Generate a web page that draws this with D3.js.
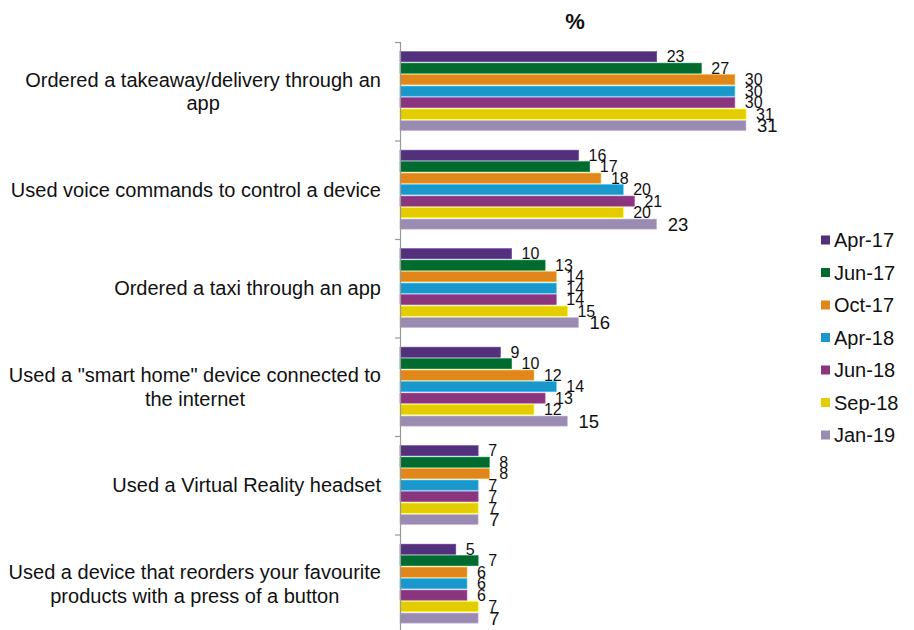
<!DOCTYPE html>
<html>
<head>
<meta charset="utf-8">
<script src="https://cdn.jsdelivr.net/npm/d3@7"></script>
<style>
  body { margin: 0; background: #fff; }
  svg { display: block; font-family: Arial, "Liberation Sans", sans-serif; }
</style>
</head>
<body>
<svg id="chart" width="914" height="630"></svg>
<script>
// Activities surveyed (each label split into display lines)
const categories = [
  ["Ordered a takeaway/delivery through an", "app"],
  ["Used voice commands to control a device"],
  ["Ordered a taxi through an app"],
  ["Used a \"smart home\" device connected to", "the internet"],
  ["Used a Virtual Reality headset"],
  ["Used a device that reorders your favourite", "products with a press of a button"]
];

// Survey waves
const waves = ["Apr-17", "Jun-17", "Oct-17", "Apr-18", "Jun-18", "Sep-18", "Jan-19"];
const waveColors = ["#52307c", "#006a2f", "#e0861a", "#1b98cb", "#89367f", "#e3cc00", "#9a8bb0"];

// Percentage per activity, one array per wave
const apr17 = [23, 16, 10, 9, 7, 5];
const jun17 = [27, 17, 13, 10, 8, 7];
const oct17 = [30, 18, 14, 12, 8, 6];
const apr18 = [30, 20, 14, 14, 7, 6];
const jun18 = [30, 21, 14, 13, 7, 6];
const sep18 = [31, 20, 15, 12, 7, 7];
const jan19 = [31, 23, 16, 15, 7, 7];
const seriesValues = [apr17, jun17, oct17, apr18, jun18, sep18, jan19];

const svg = d3.select("#chart");

const axisX = 400;
const x = d3.scaleLinear().domain([0, 31]).range([axisX, 746]);
const y = d3.scaleBand().domain(d3.range(categories.length)).range([42, 633]).padding(0);
const inner = d3.scaleBand().domain(d3.range(waves.length))
  .range([y.bandwidth() * 0.098, y.bandwidth() * 0.9]).paddingInner(0.12).paddingOuter(0);

// Title
svg.append("text")
  .attr("x", 575).attr("y", 29)
  .attr("text-anchor", "middle")
  .attr("font-size", 22).attr("font-weight", "bold")
  .attr("fill", "#111")
  .text("%");

// Bars
const groups = svg.selectAll("g.cat")
  .data(categories)
  .join("g")
  .attr("class", "cat")
  .attr("transform", (d, i) => `translate(0,${y(i)})`);

waves.forEach((w, s) => {
  groups.append("rect")
    .attr("x", x(0))
    .attr("y", inner(s))
    .attr("width", (d, i) => x(seriesValues[s][i]) - x(0))
    .attr("height", inner.bandwidth())
    .attr("fill", waveColors[s])
    .attr("stroke", d3.color(waveColors[s]).brighter(0.8))
    .attr("stroke-width", 0.6);

  const big = s === waves.length - 1;
  groups.append("text")
    .attr("x", (d, i) => x(seriesValues[s][i]) + (big ? 11 : 10))
    .attr("y", inner(s) + inner.bandwidth() / 2)
    .attr("dy", "0.36em")
    .attr("font-size", big ? 18.5 : 16)
    .attr("fill", "#111")
    .text((d, i) => seriesValues[s][i]);
});

// Vertical category axis
const axis = svg.append("g").attr("transform", `translate(${axisX},0)`)
  .call(d3.axisLeft(d3.scaleLinear().domain([0, categories.length]).range([42, 633]))
    .ticks(categories.length).tickSize(5).tickFormat(""));
axis.select(".domain").attr("stroke", "#999").attr("stroke-width", 1.2);
axis.selectAll(".tick line").attr("stroke", "#999").attr("stroke-width", 1.2);

// Category labels: block right-aligned, lines centred within the block
const labelRight = 381;
const lineH = 23.5;
categories.forEach((lines, i) => {
  const g = svg.append("g");
  const texts = lines.map((ln) => g.append("text")
    .attr("font-size", 20).attr("fill", "#111").text(ln));
  const widths = texts.map(t => t.node().getComputedTextLength());
  const blockW = d3.max(widths);
  const cx = labelRight - blockW / 2;
  const cy = y(i) + y.bandwidth() / 2;
  const first = cy - (lines.length - 1) * lineH / 2;
  texts.forEach((t, k) => {
    t.attr("x", cx).attr("text-anchor", "middle")
      .attr("y", first + k * lineH).attr("dy", "0.35em");
  });
});

// Legend
const legend = svg.append("g");
waves.forEach((w, s) => {
  const ly = 240 + s * 32.5;
  legend.append("rect")
    .attr("x", 821).attr("y", ly - 4.5).attr("width", 9).attr("height", 9)
    .attr("fill", waveColors[s]);
  legend.append("text")
    .attr("x", 834).attr("y", ly).attr("dy", "0.35em")
    .attr("font-size", 20).attr("fill", "#111").text(w);
});
</script>
</body>
</html>
